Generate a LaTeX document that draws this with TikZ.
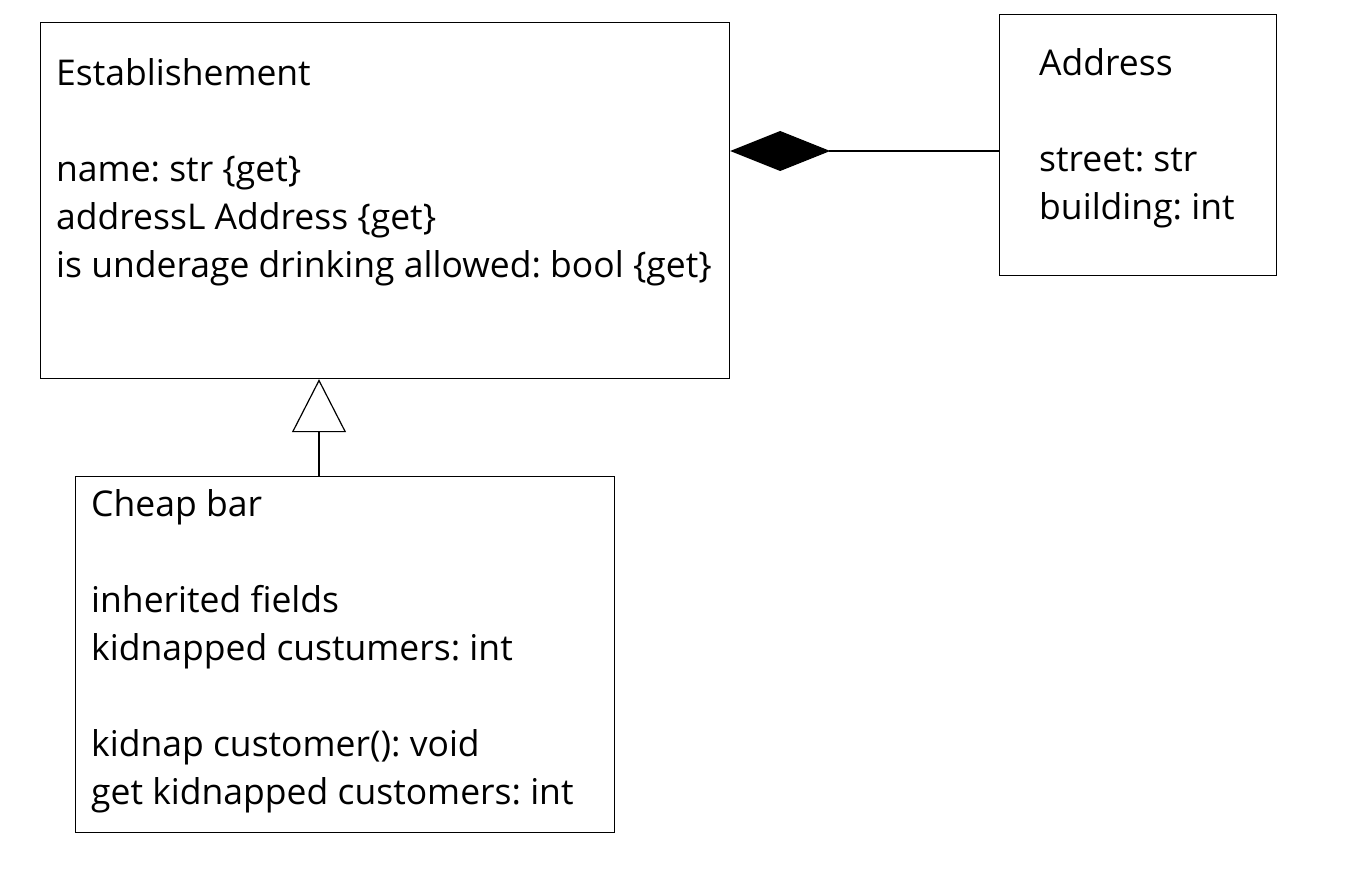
\documentclass[tikz,border=0pt]{standalone}
\usepackage{fontspec}
\setmainfont{Open Sans}
\usetikzlibrary{arrows.meta}
\begin{document}
\frenchspacing
\begin{tikzpicture}[x=1pt,y=-1pt,
  box/.style={draw,line width=1.2pt,minimum width=#1,inner sep=0pt,anchor=north west},
  txt/.style={anchor=base west,inner sep=0pt,font=\fontsize{35.5}{42}\selectfont\frenchspacing},
  conn/.style={line width=1.2pt}]
\useasboundingbox (0,0) rectangle (1346,893);
\node[box=689pt,minimum height=356pt] (est) at (40,22) {};
\node[box=277pt,minimum height=261pt] (addr) at (999,14) {};
\node[box=539pt,minimum height=356pt] (bar) at (75,476) {};
% texts
\node[txt] (e0) at (56,86) {Establishement};
\node[txt] (e1) at (56,182) {name: str \{get\}};
\node[txt] (e2) at (56,230) {addressL Address \{get\}};
\node[txt] (e3) at (56,278) {is underage drinking allowed: bool \{get\}};
\node[txt] (a0) at (1039,76) {Address};
\node[txt] (a1) at (1039,172) {street: str};
\node[txt] (a2) at (1039,220) {building: int};
\node[txt] (b0) at (91,516) {Cheap bar};
\node[txt] (b1) at (91,612) {inherited fields};
\node[txt] (b2) at (91,660) {kidnapped custumers: int};
\node[txt] (b3) at (91,756) {kidnap customer(): void};
\node[txt] (b4) at (91,804) {get kidnapped customers: int};
% connectors
\coordinate (dy) at (0,151);
\coordinate (dx) at (319,0);
\draw[conn,-{Diamond[length=100pt,width=40pt]}] (addr.west |- dy) -- (est.east |- dy);
\draw[conn,-{Triangle[open,length=53pt,width=54pt]}] (bar.north -| dx) -- (est.south -| dx);
\end{tikzpicture}
\end{document}
